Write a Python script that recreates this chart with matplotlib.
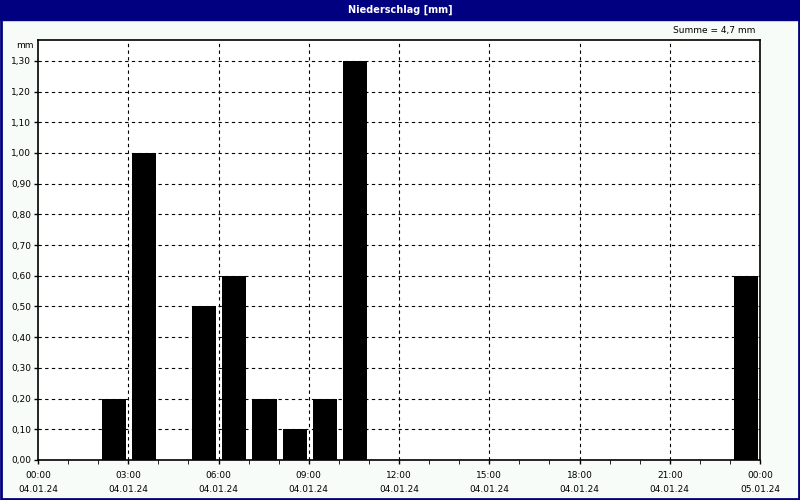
import numpy as np
import matplotlib
matplotlib.use('Agg')
import matplotlib.pyplot as plt
from matplotlib.patches import Rectangle

# Hourly precipitation (hour end, mm)
hours = [3, 4, 6, 7, 8, 9, 10, 11, 24]
rain = [0.2, 1.0, 0.5, 0.6, 0.2, 0.1, 0.2, 1.3, 0.6]
tick_times = ['00:00', '03:00', '06:00', '09:00', '12:00', '15:00', '18:00', '21:00', '00:00']
tick_dates = ['04.01.24'] * 8 + ['05.01.24']
navy = '#000080'

fig = plt.figure(figsize=(8, 5), dpi=100, facecolor='#F8FCF8')

# title bar and outer frame
fig.patches.append(Rectangle((0, 0.96), 1, 0.04, transform=fig.transFigure,
                             color=navy, zorder=0))
fig.patches.append(Rectangle((0.001, 0.002), 0.998, 0.997, transform=fig.transFigure,
                             fill=False, edgecolor=navy, linewidth=2, zorder=5))
fig.text(0.5, 0.981, 'Niederschlag [mm]', color='white', fontsize=7, fontweight='bold',
         ha='center', va='center')

ax = fig.add_axes([38 / 800, 40 / 500, 722 / 800, 420 / 500])
ax.set_facecolor('white')

x = np.array(hours) - 0.47
ax.bar(x, rain, width=0.8, color='black', zorder=3)

ax.set_xlim(0, 24)
ax.set_ylim(0, 1.368)
yt = np.arange(0, 1.31, 0.1)
ax.set_yticks(yt)
ax.set_yticklabels([f'{v:.2f}'.replace('.', ',') for v in yt], fontsize=6.5)
ax.set_xticks(np.arange(0, 25, 3))
ax.set_xticks(np.arange(0, 25, 1), minor=True)
ax.set_xticklabels([f'{t}\n{d}' for t, d in zip(tick_times, tick_dates)],
                   fontsize=6.5, linespacing=1.75)
ax.tick_params(axis='both', direction='out', length=3, width=1)
ax.tick_params(axis='x', which='minor', length=3)
ax.tick_params(axis='x', pad=5)
ax.tick_params(axis='y', pad=2)

for v in yt[1:]:
    ax.axhline(v, color='black', linestyle=(0, (3, 3)), linewidth=0.8, zorder=1)
for h in range(3, 24, 3):
    ax.axvline(h, color='black', linestyle=(0, (3, 3)), linewidth=0.8, zorder=1)

for s in ax.spines.values():
    s.set_linewidth(1.2)

fig.text(34 / 800, 1 - 45 / 500, 'mm', fontsize=6.5, ha='right', va='center')
fig.text(755 / 800, 1 - 31 / 500, 'Summe = 4,7 mm', fontsize=6.5, ha='right', va='center')

fig.savefig('out.png', dpi=100, facecolor=fig.get_facecolor())
